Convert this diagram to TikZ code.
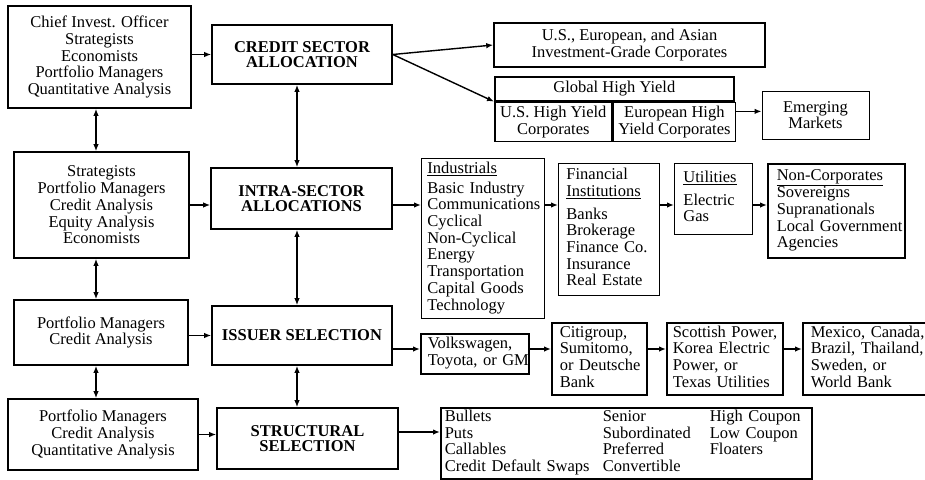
\documentclass[tikz,border=0pt]{standalone}
\usepackage{fontspec}
\setmainfont{Liberation Serif}
\usetikzlibrary{arrows.meta}

% one column of left-aligned lines that never breaks
\newcommand\itemlines[2][7pt]{\begin{tabular}{@{\hspace{#1}}l@{}}#2\end{tabular}}

\begin{document}
\begin{tikzpicture}[x=1pt,y=-1pt,>={Latex[length=7pt,width=5.5pt]}]

    % let's define some key values
    \def\xleftarrows{96}
    \def\xmidarrows{297}
    \def\yrowtwo{205}
    \def\yrowthree{349}
    \def\yrowfour{432}
    \coordinate (leftcol) at (\xleftarrows,0);
    \coordinate (midcol) at (\xmidarrows,0);
    \coordinate (rowtwo) at (0,\yrowtwo);
    \coordinate (rowthree) at (0,\yrowthree);
    \coordinate (rowfour) at (0,\yrowfour);

    % Styles
    \tikzset{
        box/.style={draw, line width=1.6pt, inner sep=0pt, align=center,
            font=\fontsize{16.5}{16.7}\selectfont},
        thinbox/.style={line width=0.9pt},
        title/.style={box, font=\fontsize{16.5}{15}\selectfont\bfseries},
        listbox/.style={box, align=left, anchor=north west},
        link/.style={->, line width=1.4pt},
        twoway/.style={<->, line width=1.4pt}
    }

    \useasboundingbox (0,0) rectangle (925,479);

    % who takes part at each step
    \node[box, minimum width=183pt, minimum height=102pt] (cio) at (99.5,57)
        {Chief Invest. Officer\\ Strategists\\ Economists\\ Portfolio Managers\\ Quantitative Analysis};
    \node[box, minimum width=175pt, minimum height=106pt] (strat) at (101.5,205)
        {Strategists\\ Portfolio Managers\\ Credit Analysis\\ Equity Analysis\\ Economists};
    \node[box, minimum width=174pt, minimum height=65pt] (pm) at (101,332.5)
        {Portfolio Managers\\ Credit Analysis};
    \node[box, minimum width=190pt, minimum height=71pt] (pmq) at (103,434.5)
        {Portfolio Managers\\ Credit Analysis\\ Quantitative Analysis};

    % the four decision steps
    \node[title, minimum width=180pt, minimum height=59pt] (credsec) at (302,54.5)
        {CREDIT SECTOR\\ ALLOCATION};
    \node[title, minimum width=181pt, minimum height=61pt] (intra) at (301.5,198.5)
        {INTRA-SECTOR\\ ALLOCATIONS};
    \node[title, minimum width=180pt, minimum height=59pt] (issuer) at (302,335.5)
        {ISSUER SELECTION};
    \node[title, minimum width=181pt, minimum height=61pt] (struct) at (307.5,438.5)
        {STRUCTURAL\\ SELECTION};

    % sectors
    \node[box, minimum width=271pt, minimum height=44pt] (invgrade) at (629.5,45)
        {U.S., European, and Asian\\ Investment-Grade Corporates};
    \node[box, minimum width=239pt, minimum height=24pt, anchor=north west] (ghyhead) at (494,76)
        {Global High Yield};
    \node[box, minimum width=117pt, minimum height=39pt, anchor=north west] (ushy) at (ghyhead.south west)
        {U.S. High Yield\\ Corporates};
    \node[box, minimum width=122pt, minimum height=39pt, anchor=north west] (euhy) at (ushy.north east)
        {European High\\ Yield Corporates};
    \node[box, thinbox, minimum width=107pt, minimum height=48pt] (emerg) at (815.5,115)
        {Emerging\\ Markets};

    % industry groups
    \node[listbox, thinbox, text width=123pt, minimum height=160pt] (indus) at (421,158)
        {\itemlines[6pt]{\underline{Industrials}\\[3pt] Basic Industry\\ Communications\\ Cyclical\\
         Non-Cyclical\\ Energy\\ Transportation\\ Capital Goods\\ Technology}};
    \node[listbox, thinbox, text width=101pt, minimum height=132pt] (finan) at (558,163)
        {\itemlines[8pt]{Financial\\ \underline{Institutions}\\[6pt] Banks\\ Brokerage\\ Finance Co.\\
         Insurance\\ Real Estate}};
    \node[listbox, thinbox, text width=78pt, minimum height=71pt] (util) at (674,163)
        {\itemlines[9pt]{\underline{Utilities}\\[6pt] Electric\\ Gas}};
    \node[listbox, text width=137pt, minimum height=94pt] (noncorp) at (767,163)
        {\itemlines[9pt]{\underline{Non-Corporates}\\ Sovereigns\\ Supranationals\\ Local Government\\ Agencies}};

    % issuers
    \node[listbox, text width=108pt, minimum height=40pt] (vw) at (420,333)
        {\itemlines{Volkswagen,\\ Toyota, or GM}};
    \node[listbox, text width=95pt, minimum height=72pt] (citi) at (551,322)
        {\itemlines[8pt]{Citigroup,\\ Sumitomo,\\ or Deutsche\\ Bank}};
    \node[listbox, text width=116pt, minimum height=72pt] (power) at (666,322)
        {\itemlines[6pt]{Scottish Power,\\ Korea Electric\\ Power, or\\ Texas Utilities}};
    \node[listbox, text width=125pt, minimum height=72pt] (sover) at (802,322)
        {\itemlines[8pt]{Mexico, Canada,\\ Brazil, Thailand,\\ Sweden, or\\ World Bank}};

    % structures
    \node[listbox, text width=371pt, minimum height=71pt] (feat) at (440,407)
        {\begin{tabular}{@{\hspace{4pt}}p{158pt}@{}p{107pt}@{}l@{}}
            Bullets & Senior & High Coupon\\
            Puts & Subordinated & Low Coupon\\
            Callables & Preferred & Floaters\\
            Credit Default Swaps & Convertible &
         \end{tabular}};

    % people to steps
    \draw[link] (cio.east |- credsec.west) -- (credsec.west);
    \draw[link] (strat.east) -- (strat.east -| intra.west);
    \draw[link] (pm.east |- issuer.west) -- (issuer.west);
    \draw[link] (pmq.east) -- (pmq.east -| struct.west);

    % left column
    \draw[twoway] (cio.south -| leftcol) -- (strat.north -| leftcol);
    \draw[twoway] (strat.south -| leftcol) -- (pm.north -| leftcol);
    \draw[twoway] (pm.south -| leftcol) -- (pmq.north -| leftcol);
    % middle column
    \draw[twoway] (credsec.south -| midcol) -- (intra.north -| midcol);
    \draw[twoway] (intra.south -| midcol) -- (issuer.north -| midcol);
    \draw[twoway] (issuer.south -| midcol) -- (struct.north -| midcol);

    % sector allocation
    \draw[link] (credsec.east) -- (invgrade.west);
    \draw[link] (credsec.east) -- (ghyhead.south west);
    \draw[link] ([yshift=10.5pt]euhy.east) -- ([yshift=10.5pt]euhy.east -| emerg.west);

    % intra-sector chain
    \draw[link] (intra.east |- rowtwo) -- (indus.west |- rowtwo);
    \draw[link] (indus.east |- rowtwo) -- (finan.west |- rowtwo);
    \draw[link] (finan.east |- rowtwo) -- (util.west |- rowtwo);
    \draw[link] (util.east |- rowtwo) -- (noncorp.west |- rowtwo);

    % issuer chain
    \draw[link] (issuer.east |- rowthree) -- (vw.west |- rowthree);
    \draw[link] (vw.east |- rowthree) -- (citi.west |- rowthree);
    \draw[link] (citi.east |- rowthree) -- (power.west |- rowthree);
    \draw[link] (power.east |- rowthree) -- (sover.west |- rowthree);

    % structure
    \draw[link] (struct.east |- rowfour) -- (feat.west |- rowfour);

\end{tikzpicture}
\end{document}
